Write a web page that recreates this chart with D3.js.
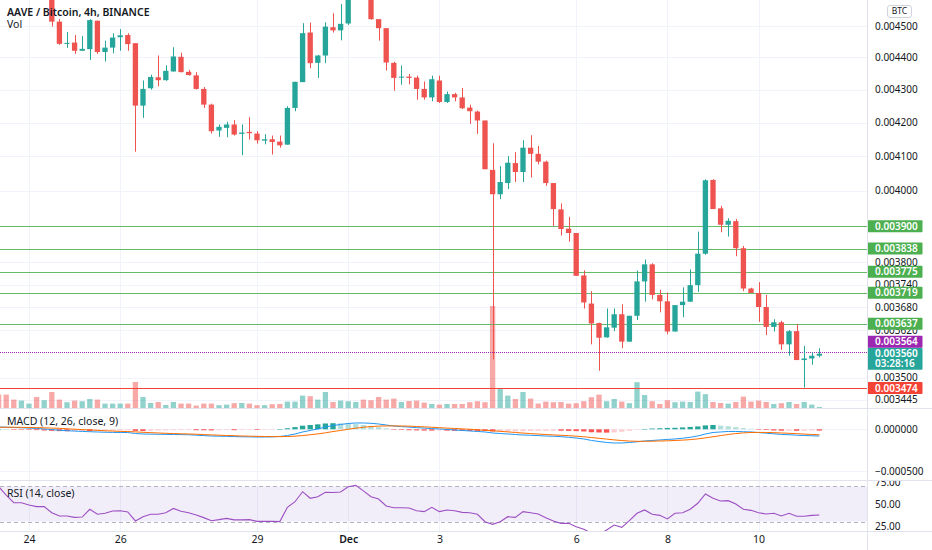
<!DOCTYPE html>
<meta charset="utf-8">
<head>
<script src="https://cdnjs.cloudflare.com/ajax/libs/d3/7.8.5/d3.min.js"></script>
<style>
	body { margin: 0; background: #fff; }
	svg { display: block; font-family: "Noto Sans", sans-serif; }
</style>
</head>
<body>
<div id="chart"></div>
<script>

////////////////////////////////////
// DATA  (AAVE/BTC 4h, Binance)
////////////////////////////////////

// first 4h bar shown (the chart scrolls off to the left)
const firstBar = '2020-11-23T08:00Z'

// [open, high, low, close] in BTC
const ohlc = [
	[0.004660, 0.004690, 0.004630, 0.004640],
	[0.004640, 0.004665, 0.004610, 0.004620],
	[0.004620, 0.004640, 0.004595, 0.004605],
	[0.004605, 0.004650, 0.004598, 0.004630],
	[0.004630, 0.004660, 0.004615, 0.004645],
	[0.004645, 0.004655, 0.004600, 0.004612],
	[0.004612, 0.004640, 0.004598, 0.004625],
	[0.004625, 0.004632, 0.004498, 0.004514],
	[0.004514, 0.004522, 0.004440, 0.004443],
	[0.004443, 0.004481, 0.004430, 0.004446],
	[0.004447, 0.004471, 0.004411, 0.004421],
	[0.004421, 0.004468, 0.004421, 0.004427],
	[0.004426, 0.004522, 0.004392, 0.004519],
	[0.004517, 0.004517, 0.004411, 0.004417],
	[0.004417, 0.004453, 0.004387, 0.004431],
	[0.004431, 0.004477, 0.004413, 0.004463],
	[0.004464, 0.004490, 0.004421, 0.004470],
	[0.004471, 0.004477, 0.004421, 0.004442],
	[0.004445, 0.004445, 0.004113, 0.004251],
	[0.004251, 0.004328, 0.004214, 0.004302],
	[0.004304, 0.004346, 0.004300, 0.004339],
	[0.004338, 0.004406, 0.004310, 0.004329],
	[0.004329, 0.004375, 0.004327, 0.004358],
	[0.004356, 0.004432, 0.004356, 0.004403],
	[0.004402, 0.004415, 0.004353, 0.004354],
	[0.004355, 0.004361, 0.004343, 0.004345],
	[0.004344, 0.004354, 0.004300, 0.004302],
	[0.004302, 0.004308, 0.004244, 0.004254],
	[0.004254, 0.004257, 0.004167, 0.004174],
	[0.004176, 0.004194, 0.004157, 0.004187],
	[0.004184, 0.004202, 0.004156, 0.004194],
	[0.004194, 0.004207, 0.004161, 0.004164],
	[0.004166, 0.004194, 0.004103, 0.004170],
	[0.004172, 0.004216, 0.004149, 0.004168],
	[0.004167, 0.004174, 0.004137, 0.004147],
	[0.004146, 0.004165, 0.004135, 0.004150],
	[0.004150, 0.004161, 0.004105, 0.004142],
	[0.004143, 0.004161, 0.004125, 0.004132],
	[0.004134, 0.004249, 0.004134, 0.004244],
	[0.004244, 0.004324, 0.004234, 0.004324],
	[0.004323, 0.004509, 0.004323, 0.004477],
	[0.004479, 0.004511, 0.004366, 0.004382],
	[0.004383, 0.004408, 0.004336, 0.004406],
	[0.004406, 0.004512, 0.004382, 0.004498],
	[0.004496, 0.004541, 0.004479, 0.004486],
	[0.004486, 0.004571, 0.004454, 0.004507],
	[0.004508, 0.004625, 0.004503, 0.004610],
	[0.004610, 0.004680, 0.004600, 0.004660],
	[0.004660, 0.004690, 0.004615, 0.004630],
	[0.004630, 0.004640, 0.004520, 0.004522],
	[0.004522, 0.004522, 0.004453, 0.004493],
	[0.004493, 0.004493, 0.004359, 0.004384],
	[0.004383, 0.004386, 0.004297, 0.004336],
	[0.004337, 0.004375, 0.004315, 0.004340],
	[0.004340, 0.004348, 0.004316, 0.004336],
	[0.004337, 0.004343, 0.004269, 0.004302],
	[0.004302, 0.004325, 0.004269, 0.004276],
	[0.004276, 0.004343, 0.004264, 0.004332],
	[0.004328, 0.004343, 0.004259, 0.004262],
	[0.004262, 0.004294, 0.004259, 0.004286],
	[0.004286, 0.004290, 0.004264, 0.004276],
	[0.004276, 0.004305, 0.004241, 0.004243],
	[0.004245, 0.004254, 0.004196, 0.004234],
	[0.004233, 0.004236, 0.004166, 0.004206],
	[0.004206, 0.004206, 0.004062, 0.004062],
	[0.004060, 0.004138, 0.003546, 0.003990],
	[0.003990, 0.004071, 0.003976, 0.004025],
	[0.004022, 0.004100, 0.004005, 0.004081],
	[0.004080, 0.004112, 0.004025, 0.004054],
	[0.004054, 0.004147, 0.004025, 0.004125],
	[0.004125, 0.004162, 0.004038, 0.004107],
	[0.004107, 0.004130, 0.004076, 0.004084],
	[0.004084, 0.004087, 0.004014, 0.004022],
	[0.004022, 0.004022, 0.003900, 0.003948],
	[0.003947, 0.003964, 0.003874, 0.003892],
	[0.003893, 0.003926, 0.003857, 0.003881],
	[0.003881, 0.003881, 0.003764, 0.003764],
	[0.003765, 0.003779, 0.003677, 0.003693],
	[0.003690, 0.003723, 0.003584, 0.003638],
	[0.003639, 0.003640, 0.003517, 0.003601],
	[0.003602, 0.003677, 0.003601, 0.003628],
	[0.003627, 0.003677, 0.003618, 0.003662],
	[0.003662, 0.003688, 0.003574, 0.003591],
	[0.003591, 0.003658, 0.003591, 0.003658],
	[0.003658, 0.003778, 0.003647, 0.003749],
	[0.003749, 0.003808, 0.003695, 0.003795],
	[0.003795, 0.003798, 0.003701, 0.003713],
	[0.003713, 0.003727, 0.003667, 0.003696],
	[0.003696, 0.003719, 0.003610, 0.003617],
	[0.003617, 0.003686, 0.003617, 0.003686],
	[0.003686, 0.003733, 0.003654, 0.003695],
	[0.003695, 0.003781, 0.003695, 0.003739],
	[0.003739, 0.003885, 0.003721, 0.003824],
	[0.003824, 0.004033, 0.003821, 0.004030],
	[0.004031, 0.004033, 0.003948, 0.003948],
	[0.003950, 0.003957, 0.003883, 0.003904],
	[0.003904, 0.003922, 0.003871, 0.003915],
	[0.003914, 0.003920, 0.003817, 0.003839],
	[0.003839, 0.003845, 0.003723, 0.003730],
	[0.003730, 0.003732, 0.003718, 0.003718],
	[0.003718, 0.003747, 0.003642, 0.003681],
	[0.003681, 0.003713, 0.003608, 0.003629],
	[0.003629, 0.003649, 0.003617, 0.003641],
	[0.003641, 0.003645, 0.003570, 0.003584],
	[0.003584, 0.003621, 0.003555, 0.003618],
	[0.003618, 0.003637, 0.003544, 0.003544],
	[0.003544, 0.003580, 0.003475, 0.003548],
	[0.003548, 0.003563, 0.003532, 0.003555],
	[0.003555, 0.003574, 0.003551, 0.003560]
]

// volume, thousands of AAVE
const volume = [
	6.7, 6.7, 4.2, 3.7, 2.2, 5.5, 3.9, 8.0, 4.2, 2.9, 3.7, 3.4, 4.5, 4.2, 2.2, 2.2,
	2.2, 2.2, 13.0, 5.5, 2.5, 3.0, 1.5, 3.0, 2.2, 2.2, 1.2, 2.2, 2.2, 1.4, 1.7, 2.4,
	2.5, 2.2, 1.4, 1.4, 1.9, 2.0, 3.2, 3.2, 6.2, 5.9, 4.2, 8.0, 3.0, 3.7, 3.4, 3.0,
	4.2, 3.9, 5.5, 4.2, 4.7, 3.0, 3.5, 3.7, 2.7, 2.0, 1.7, 2.0, 2.0, 2.0, 2.9, 3.4,
	2.9, 51.0, 10.0, 6.2, 4.5, 8.0, 4.7, 2.2, 3.2, 2.9, 3.0, 2.2, 2.4, 3.4, 5.4, 6.7,
	3.4, 4.5, 3.2, 2.4, 12.9, 6.5, 3.4, 2.0, 3.9, 2.9, 3.2, 3.0, 8.2, 6.9, 3.0, 2.5,
	2.2, 3.0, 5.7, 3.2, 3.7, 3.0, 2.0, 2.4, 3.0, 2.0, 3.0, 1.7, 0.5
]

// MACD (12, 26, close, 9), in units of 1e-6 BTC
const macdLine = [
	27, 25, 21, 18, 14, 10, 4, -4, -11, -17, -21, -25, -29, -32, -35, -37,
	-38, -39, -50, -56, -58, -59, -61, -62, -63, -65, -70, -75, -80, -82, -84, -87,
	-89, -90, -92, -92, -90, -86, -74, -56, -32, -14, 4, 27, 45, 57, 69, 75,
	75, 71, 63, 51, 39, 32, 26, 20, 14, 8, 4, -2, -8, -14, -20, -26,
	-32, -44, -50, -56, -62, -68, -71, -75, -80, -83, -88, -95, -104, -115, -133, -145,
	-157, -163, -163, -157, -149, -139, -133, -127, -121, -115, -107, -95, -80, -56, -38, -32,
	-26, -26, -29, -32, -39, -46, -54, -61, -65, -70, -74, -77, -80
]
const signalLine = [
	24, 24, 24, 23, 21, 20, 18, 14, 11, 6, 1, -4, -8, -13, -18, -21,
	-25, -27, -31, -36, -40, -44, -48, -51, -54, -56, -59, -63, -67, -70, -74, -76,
	-80, -82, -84, -86, -87, -87, -86, -82, -75, -65, -55, -42, -27, -14, 0, 13,
	24, 32, 38, 40, 40, 39, 37, 33, 29, 24, 19, 14, 10, 5, 0, -6,
	-12, -18, -24, -31, -38, -45, -51, -57, -62, -67, -71, -76, -82, -89, -98, -107,
	-117, -126, -134, -140, -143, -143, -142, -139, -137, -133, -129, -123, -114, -102, -89, -75,
	-62, -51, -43, -38, -37, -38, -40, -44, -48, -52, -57, -62, -65
]

// RSI (14, close)
const rsi = [
	70, 60, 51.5, 51.5, 48.9, 47, 47, 40, 36.4, 36.4, 34.8, 35.2, 44, 38.3, 39.5, 42,
	42.4, 41, 30.7, 35.6, 38.3, 38.3, 40, 45, 41.7, 40, 37.5, 34.5, 31, 32.2, 33.7, 32,
	32, 32.2, 30.3, 30.3, 30.3, 30, 46.2, 52.6, 64, 56.5, 58.3, 63.3, 63, 63.6, 69.7, 71.2,
	65, 58.3, 55.7, 47.7, 45.8, 45.8, 45.4, 42.4, 41.3, 46.2, 41.3, 43.2, 42.4, 40.5, 40, 38.3,
	29.9, 26.9, 29.9, 35.6, 34.8, 41.3, 40, 38.6, 34.5, 30.7, 28, 28, 24.2, 21.2, 17, 15,
	20.5, 26.1, 23.5, 31, 39.4, 43.2, 38.3, 37.1, 33, 39.4, 40, 44, 50.8, 61.4, 56.5, 53.4,
	53.8, 50, 44, 42.8, 40, 38.6, 39.4, 36.4, 39.4, 36, 36, 37.1, 37.5
]

// horizontal lines drawn on the chart
const greenLevels = [0.003900, 0.003838, 0.003775, 0.003719, 0.003637]
const alertLevel = 0.003564
const supportLevel = 0.003474
const lastPrice = 0.003560
const countdown = '03:28:16'

// axis ticks
const priceTicks = [0.0045, 0.0044, 0.0043, 0.0042, 0.0041, 0.0040, 0.0038, 0.00374, 0.00368, 0.00362, 0.0035, 0.003445]
const macdTicks = [0, -0.0005]
const rsiTicks = [75, 50, 25]
const dayTicks = ['2020-11-24', '2020-11-26', '2020-11-29', '2020-12-01', '2020-12-03', '2020-12-06', '2020-12-08', '2020-12-10']

const title = 'AAVE / Bitcoin, 4h, BINANCE'

////////////////////////////////////
// LAYOUT
////////////////////////////////////

const W = 932, H = 550
const plotW = 867
const mainBottom = 408, macdBottom = 480, rsiBottom = 531

const upColor = '#26a69a', downColor = '#ef5350'
const textColor = '#131722', gridColor = '#f0f3fa', borderColor = '#e0e3eb'

const parseDay = d3.utcParse('%Y-%m-%d')
const barMs = 4 * 3600 * 1000
const t0 = new Date(firstBar).getTime()

const bars = ohlc.map((d, i) => ({
	t: new Date(t0 + i * barMs),
	o: d[0], h: d[1], l: d[2], c: d[3],
	v: volume[i],
	macd: macdLine[i] * 1e-6,
	signal: signalLine[i] * 1e-6,
	rsi: rsi[i]
}))
bars.forEach((d, i) => {
	d.up = d.c >= d.o
	d.hist = d.macd - d.signal
	d.prevHist = i ? bars[i - 1].macd - bars[i - 1].signal : d.hist
})

const xScale = d3.scaleUtc()
	.domain([parseDay('2020-11-24'), parseDay('2020-12-10')])
	.range([29, 758.6])

const barStep = xScale(new Date(t0 + barMs)) - xScale(new Date(t0))
const barW = barStep * 0.7

const yScale = d3.scaleLog()
	.domain([0.0034246, 0.0045844])
	.range([mainBottom, 0])

const volScale = d3.scaleLinear()
	.domain([0, d3.max(volume)])
	.range([mainBottom, mainBottom * 0.75])

const macdScale = d3.scaleLinear()
	.domain([-0.000603, 0.000253])
	.range([macdBottom, mainBottom])

const rsiScale = d3.scaleLinear()
	.domain([19.3, 77.3])
	.range([rsiBottom, macdBottom])

const fmtPrice = d3.format('.6f')

////////////////////////////////////
// SVG + CLIPS
////////////////////////////////////

const svg = d3.select('#chart').append('svg')
	.attr('width', W)
	.attr('height', H)

const defs = svg.append('defs')
const clip = (id, y0, y1, x0 = 0, x1 = plotW) => {
	defs.append('clipPath').attr('id', id)
		.append('rect').attr('x', x0).attr('y', y0).attr('width', x1 - x0).attr('height', y1 - y0)
	return `url(#${id})`
}
const mainClip = clip('mainClip', 0, mainBottom)
const macdClip = clip('macdClip', mainBottom, macdBottom)
const rsiClip = clip('rsiClip', macdBottom, rsiBottom)
const rsiAxisClip = clip('rsiAxisClip', macdBottom, rsiBottom, plotW, W)

svg.append('rect').attr('width', W).attr('height', H).attr('fill', '#fff')

////////////////////////////////////
// GRID
////////////////////////////////////

const days = dayTicks.map(parseDay)

svg.append('g')
	.attr('class', 'x grid')
	.selectAll('line')
	.data(days)
	.enter().append('line')
		.attr('x1', d => Math.round(xScale(d)) + 0.5)
		.attr('x2', d => Math.round(xScale(d)) + 0.5)
		.attr('y1', 0)
		.attr('y2', rsiBottom)
		.attr('stroke', gridColor)

const hGrid = (ticks, scale, cls) => svg.append('g')
	.attr('class', cls)
	.selectAll('line')
	.data(ticks)
	.enter().append('line')
		.attr('x1', 0)
		.attr('x2', plotW)
		.attr('y1', d => Math.round(scale(d)) + 0.5)
		.attr('y2', d => Math.round(scale(d)) + 0.5)
		.attr('stroke', gridColor)

hGrid(priceTicks, yScale, 'y grid')
hGrid(macdTicks, macdScale, 'macd grid')

////////////////////////////////////
// MAIN PANE: VOLUME, LEVELS, CANDLES
////////////////////////////////////

const mainG = svg.append('g').attr('clip-path', mainClip)

mainG.append('g').attr('class', 'volume')
	.selectAll('rect')
	.data(bars)
	.enter().append('rect')
		.attr('x', d => xScale(d.t) - barW / 2)
		.attr('width', barW)
		.attr('y', d => volScale(d.v))
		.attr('height', d => mainBottom - volScale(d.v))
		.attr('fill', d => d.up ? upColor : downColor)
		.attr('fill-opacity', 0.5)

const levelLine = (value, color, dash) => mainG.append('line')
	.attr('x1', 0)
	.attr('x2', plotW)
	.attr('y1', Math.round(yScale(value)) + 0.5)
	.attr('y2', Math.round(yScale(value)) + 0.5)
	.attr('stroke', color)
	.attr('stroke-dasharray', dash)

greenLevels.forEach(v => levelLine(v, '#66bb6a', null))
levelLine(supportLevel, '#f44336', null)
levelLine(alertLevel, '#9c27b0', '1,1')

const candles = mainG.append('g').attr('class', 'candles')
	.selectAll('g')
	.data(bars)
	.enter().append('g')

candles.append('line')
	.attr('x1', d => Math.round(xScale(d.t)) + 0.5)
	.attr('x2', d => Math.round(xScale(d.t)) + 0.5)
	.attr('y1', d => yScale(d.h))
	.attr('y2', d => yScale(d.l))
	.attr('stroke', d => d.up ? upColor : downColor)

candles.append('rect')
	.attr('x', d => xScale(d.t) - barW / 2)
	.attr('width', barW)
	.attr('y', d => yScale(Math.max(d.o, d.c)))
	.attr('height', d => Math.max(1, yScale(Math.min(d.o, d.c)) - yScale(Math.max(d.o, d.c))))
	.attr('fill', d => d.up ? upColor : downColor)

////////////////////////////////////
// MACD PANE
////////////////////////////////////

const macdG = svg.append('g').attr('clip-path', macdClip)

const histColor = d => d.hist >= 0
	? (d.hist >= d.prevHist ? '#26a69a' : '#b2dfdb')
	: (d.hist <= d.prevHist ? '#ff5252' : '#ffcdd2')

macdG.selectAll('.hist')
	.data(bars)
	.enter().append('rect')
		.attr('class', 'hist')
		.attr('x', d => xScale(d.t) - barW / 2)
		.attr('width', barW)
		.attr('y', d => Math.min(macdScale(0), macdScale(d.hist)))
		.attr('height', d => Math.max(0.5, Math.abs(macdScale(d.hist) - macdScale(0))))
		.attr('fill', histColor)

macdG.append('path')
	.datum(bars)
	.attr('fill', 'none')
	.attr('stroke', '#2196f3')
	.attr('d', d3.line().x(d => xScale(d.t)).y(d => macdScale(d.macd)))

macdG.append('path')
	.datum(bars)
	.attr('fill', 'none')
	.attr('stroke', '#ff6d00')
	.attr('d', d3.line().x(d => xScale(d.t)).y(d => macdScale(d.signal)))

////////////////////////////////////
// RSI PANE
////////////////////////////////////

const rsiG = svg.append('g').attr('clip-path', rsiClip)

rsiG.append('rect')
	.attr('x', 0)
	.attr('width', plotW)
	.attr('y', rsiScale(70))
	.attr('height', rsiScale(30) - rsiScale(70))
	.attr('fill', '#7e57c2')
	.attr('fill-opacity', 0.1)

rsiG.selectAll('.band')
	.data([70, 30])
	.enter().append('line')
		.attr('class', 'band')
		.attr('x1', 0)
		.attr('x2', plotW)
		.attr('y1', d => Math.round(rsiScale(d)) + 0.5)
		.attr('y2', d => Math.round(rsiScale(d)) + 0.5)
		.attr('stroke', '#b2b5be')
		.attr('stroke-dasharray', '4,3')

rsiG.append('path')
	.datum(bars)
	.attr('fill', 'none')
	.attr('stroke', '#9c4fc4')
	.attr('stroke-width', 1.1)
	.attr('d', d3.line().x(d => xScale(d.t)).y(d => rsiScale(d.rsi)))

////////////////////////////////////
// LEGENDS
////////////////////////////////////

const legend = (txt, y, weight) => svg.append('text')
	.attr('x', 7)
	.attr('y', y)
	.attr('dy', '0.35em')
	.attr('font-size', 10.5)
	.attr('font-weight', weight)
	.attr('fill', textColor)
	.text(txt)

legend(title, 12, 600)
legend('Vol', 24, 400)
legend('MACD (12, 26, close, 9)', 421, 400)
legend('RSI (14, close)', 493, 400)

////////////////////////////////////
// AXES
////////////////////////////////////

svg.append('rect')
	.attr('x', plotW)
	.attr('width', W - plotW)
	.attr('height', H)
	.attr('fill', '#fff')

svg.append('rect')
	.attr('y', rsiBottom)
	.attr('width', W)
	.attr('height', H - rsiBottom)
	.attr('fill', '#fff')

const styleAxis = g => {
	g.select('.domain').remove()
	g.selectAll('text')
		.attr('fill', textColor)
		.attr('font-size', 10)
		.attr('font-family', '"Noto Sans", sans-serif')
}

svg.append('g')
	.attr('transform', `translate(${plotW},0)`)
	.call(d3.axisRight(yScale).tickValues(priceTicks).tickFormat(fmtPrice).tickSize(0).tickPadding(8))
	.call(styleAxis)

svg.append('g')
	.attr('transform', `translate(${plotW},0)`)
	.call(d3.axisRight(macdScale).tickValues(macdTicks).tickFormat(fmtPrice).tickSize(0).tickPadding(8))
	.call(styleAxis)

svg.append('g')
	.attr('clip-path', rsiAxisClip)
	.append('g')
	.attr('transform', `translate(${plotW},0)`)
	.call(d3.axisRight(rsiScale).tickValues(rsiTicks).tickFormat(d3.format('.2f')).tickSize(0).tickPadding(8))
	.call(styleAxis)

svg.append('g')
	.attr('transform', `translate(0,${rsiBottom})`)
	.call(d3.axisBottom(xScale)
		.tickValues(days)
		.tickFormat(d => d.getUTCDate() === 1 ? d3.utcFormat('%b')(d) : d3.utcFormat('%-d')(d))
		.tickSize(0)
		.tickPadding(5))
	.call(styleAxis)
	.call(g => g.selectAll('text')
		.attr('font-size', 10.5)
		.attr('font-weight', d => d.getUTCDate() === 1 ? 600 : 400))

////////////////////////////////////
// PRICE LABELS
////////////////////////////////////

const labelH = 12
const priceLabel = (top, color, lines) => {
	const g = svg.append('g').attr('class', 'price-label')
	g.append('rect')
		.attr('x', plotW + 0.5)
		.attr('y', top)
		.attr('width', 55)
		.attr('height', labelH * lines.length - (lines.length - 1) * 2)
		.attr('rx', 1)
		.attr('fill', color)
	lines.forEach((txt, i) => g.append('text')
		.attr('x', plotW + 8)
		.attr('y', top + labelH / 2 + i * (labelH - 2))
		.attr('dy', '0.36em')
		.attr('font-size', 10)
		.attr('font-weight', 600)
		.attr('fill', '#fff')
		.text(txt))
}

greenLevels.forEach(v => priceLabel(yScale(v) - labelH / 2, '#4caf50', [fmtPrice(v)]))
priceLabel(yScale(supportLevel) - labelH / 2, '#f44336', [fmtPrice(supportLevel)])

// last price stays in place, the alert label is pushed up above it
const lastTop = yScale(lastPrice) - labelH / 2
priceLabel(lastTop, '#26a69a', [fmtPrice(lastPrice), countdown])
priceLabel(Math.min(yScale(alertLevel) - labelH / 2, lastTop - labelH), '#9c27b0', [fmtPrice(alertLevel)])

// currency badge
svg.append('rect')
	.attr('x', 887.5)
	.attr('y', 5.5)
	.attr('width', 24)
	.attr('height', 12)
	.attr('rx', 2.5)
	.attr('fill', '#fff')
	.attr('stroke', '#d1d4dc')
svg.append('text')
	.attr('x', 899.5)
	.attr('y', 11.5)
	.attr('dy', '0.35em')
	.attr('text-anchor', 'middle')
	.attr('font-size', 8.5)
	.attr('fill', textColor)
	.text('BTC')

////////////////////////////////////
// SEPARATORS
////////////////////////////////////

svg.append('line')
	.attr('x1', plotW + 0.5).attr('x2', plotW + 0.5)
	.attr('y1', 0).attr('y2', H)
	.attr('stroke', borderColor)

svg.selectAll('.sep')
	.data([mainBottom, macdBottom, rsiBottom])
	.enter().append('line')
		.attr('class', 'sep')
		.attr('x1', 0).attr('x2', W)
		.attr('y1', d => d + 0.5).attr('y2', d => d + 0.5)
		.attr('stroke', borderColor)

</script>
</body>
